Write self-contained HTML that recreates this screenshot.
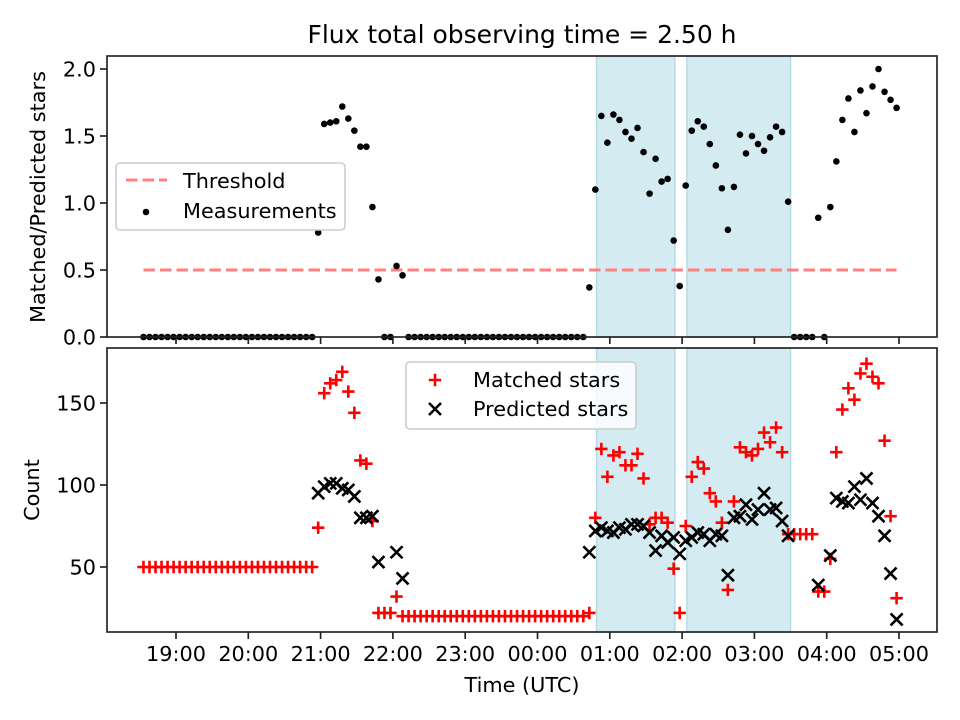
<!DOCTYPE html>
<html><head><meta charset="utf-8">
<style>
html,body{margin:0;padding:0;background:#fff;}
svg{display:block;font-family:"DejaVu Sans","Liberation Sans",sans-serif;}
</style></head>
<body>
<svg id="chart" width="960" height="720" viewBox="0 0 960 720" xmlns="http://www.w3.org/2000/svg"></svg>
<script>
// minutes after 18:00 UTC
const times = [33,38,43,48,53,58,63,68,73,78,83,88,93,98,103,108,113,118,123,128,133,138,143,148,153,158,163,168,173,178,183,188,193,198,203,208,213,218,223,228,233,238,243,248,253,258,263,268,273,278,283,288,293,298,303,308,313,318,323,328,333,338,343,348,353,358,363,368,373,378,383,388,393,398,403,408,413,418,423,428,433,438,443,448,453,458,463,468,473,478,483,488,493,498,503,508,513,518,523,528,533,538,543,548,553,558,563,568,573,578,583,588,593,598,603,608,613,618,623,628,633,638,643,648,653,658];
const ratio = [0,0,0,0,0,0,0,0,0,0,0,0,0,0,0,0,0,0,0,0,0,0,0,0,0,0,0,0,0,
0.78,1.59,1.60,1.61,1.72,1.63,1.54,1.42,1.42,0.97,0.43,0,0,0.53,0.46,
0,0,0,0,0,0,0,0,0,0,0,0,0,0,0,0,0,0,0,0,0,0,0,0,0,0,0,0,0,0,
0.37,
1.10,1.65,1.45,1.66,1.62,1.53,1.48,1.56,1.38,1.07,1.33,1.16,1.18,0.72,0.38,1.13,1.54,1.61,1.57,1.44,1.28,1.11,0.80,1.12,1.51,1.37,1.50,1.44,1.39,1.49,1.57,1.53,1.01,
0,0,0,0,0.89,0,
0.97,1.31,1.62,1.78,1.53,1.84,1.67,1.87,2.00,1.83,1.77,1.71];
const matched = [50,50,50,50,50,50,50,50,50,50,50,50,50,50,50,50,50,50,50,50,50,50,50,50,50,50,50,50,50,
74,156,162,164,169,157,144,115,113,78,22,22,22,32,20,
20,20,20,20,20,20,20,20,20,20,20,20,20,20,20,20,20,20,20,20,20,20,20,20,20,20,20,20,20,20,
22,
80,122,105,118,120,112,112,119,104,76,80,80,77,49,22,75,105,114,110,95,90,77,36,90,123,120,118,122,132,126,135,120,70,
70,70,70,70,35,35,
55,120,146,159,152,168,174,166,162,127,81,31];
const predicted = [null,null,null,null,null,null,null,null,null,null,null,null,null,null,null,null,null,null,null,null,null,null,null,null,null,null,null,null,null,
95,99,101,101,98,97,93,80,80,81,53,null,null,59,43,
null,null,null,null,null,null,null,null,null,null,null,null,null,null,null,null,null,null,null,null,null,null,null,null,null,null,null,null,null,null,
59,
72,74,72,71,74,73,76,76,75,71,60,69,65,68,58,66,68,71,70,66,70,69,45,80,81,88,79,85,95,85,86,78,69,
null,null,null,null,39,null,
57,92,90,89,99,91,104,89,81,69,46,18];
const spanStarts = [409,484];
const spanEnds = [474,570];
const threshold = 0.5;
const thresholdRange = [33,658];
const xTickValues = [60,120,180,240,300,360,420,480,540,600,660];
const xTickLabels = ["19:00","20:00","21:00","22:00","23:00","00:00","01:00","02:00","03:00","04:00","05:00"];
const topYTicks = [0,0.5,1.0,1.5,2.0];
const topYLabels = ["0.0","0.5","1.0","1.5","2.0"];
const botYTicks = [50,100,150];
const botYLabels = ["50","100","150"];

const NS="http://www.w3.org/2000/svg";
const svg=document.getElementById('chart');
function mk(tag,attrs,parent){const e=document.createElementNS(NS,tag);for(const k in attrs)e.setAttribute(k,attrs[k]);(parent||svg).appendChild(e);return e;}
const L=107,R=937;
const x=m=>176+(m-60)*72.3/60;
const T1=56,B1=337, T2=348,B2=632;
const yTop=v=>337-v*134;
const yBot=v=>567-(v-50)*1.64;
const FS=20.8;

// title
const title=mk('text',{x:522,y:43,'text-anchor':'middle','font-size':25,fill:'#000'});
title.textContent='Flux total observing time = 2.50 h';



function panel(T,B,name){
  const g=mk('g',{});
  
  
  for(let i=0;i<spanStarts.length;i++){
    const r=mk('rect',{x:x(spanStarts[i]),y:T,width:x(spanEnds[i])-x(spanStarts[i]),height:B-T,fill:'#d5ebf2',stroke:'#b5dbe7','stroke-width':1.5},g);
    
    
  }
  return g;
}
function frame(T,B,g){
  const f=mk('rect',{x:L,y:T,width:R-L,height:B-T,fill:'none',stroke:'#222','stroke-width':1.67},g);
  
  
  xTickValues.forEach((v,i)=>{
    const t=mk('line',{x1:x(v),x2:x(v),y1:B,y2:B+7,stroke:'#222','stroke-width':1.67},g);
    
    
  });
}

// ---- top panel
const g1=panel(T1,B1,'ratio-panel');
const th=mk('line',{x1:x(thresholdRange[0]),x2:x(thresholdRange[1]),y1:yTop(threshold),y2:yTop(threshold),stroke:'#ff8080','stroke-width':3,'stroke-dasharray':'11.5,5'},g1);


times.forEach((m,i)=>{
  const c=mk('circle',{cx:x(m),cy:yTop(ratio[i]),r:3.3,fill:'#000'},g1);
  
  
});
frame(T1,B1,g1);
topYTicks.forEach((v,i)=>{
  mk('line',{x1:L-7,x2:L,y1:yTop(v),y2:yTop(v),stroke:'#222','stroke-width':1.67},g1);
  const t=mk('text',{x:L-11,y:yTop(v)+7.5,'text-anchor':'end','font-size':FS},g1);
  t.textContent=topYLabels[i];
  
  
});
const yl1=mk('text',{transform:'translate(45,197) rotate(-90)','text-anchor':'middle','font-size':FS});
yl1.textContent='Matched/Predicted stars';


// top legend
const lg1=mk('g',{});


mk('rect',{x:116,y:163,width:229,height:67,rx:4,fill:'rgba(255,255,255,0.8)',stroke:'#cccccc','stroke-width':1.6},lg1);
mk('line',{x1:126,x2:167,y1:180,y2:180,stroke:'#ff8080','stroke-width':3,'stroke-dasharray':'11.5,5'},lg1);
const lt1=mk('text',{x:183,y:188,'font-size':FS},lg1);lt1.textContent='Threshold';


mk('circle',{cx:146,cy:212,r:3.3,fill:'#000'},lg1);
const lt2=mk('text',{x:183,y:218,'font-size':FS},lg1);lt2.textContent='Measurements';



// ---- bottom panel
const g2=panel(T2,B2,'count-panel');
function plus(cx,cy,p){mk('path',{d:`M${cx-6.2},${cy}H${cx+6.2}M${cx},${cy-6.2}V${cy+6.2}`,stroke:'#ff0000','stroke-width':2.6,fill:'none'},p);}
function cross(cx,cy,p){mk('path',{d:`M${cx-6},${cy-6}L${cx+6},${cy+6}M${cx-6},${cy+6}L${cx+6},${cy-6}`,stroke:'#000','stroke-width':2.6,fill:'none'},p);}
const gm=mk('g',{},g2);


times.forEach((m,i)=>{ if(matched[i]!==null) plus(x(m),yBot(matched[i]),gm); });
const gp=mk('g',{},g2);


times.forEach((m,i)=>{ if(predicted[i]!==null) cross(x(m),yBot(predicted[i]),gp); });
frame(T2,B2,g2);
botYTicks.forEach((v,i)=>{
  mk('line',{x1:L-7,x2:L,y1:yBot(v),y2:yBot(v),stroke:'#222','stroke-width':1.67},g2);
  const t=mk('text',{x:L-11,y:yBot(v)+7.5,'text-anchor':'end','font-size':FS},g2);
  t.textContent=botYLabels[i];
  
  
});
xTickValues.forEach((v,i)=>{
  const t=mk('text',{x:x(v),y:B2+29,'text-anchor':'middle','font-size':FS},g2);
  t.textContent=xTickLabels[i];
  
  
});
const yl2=mk('text',{transform:'translate(39,490) rotate(-90)','text-anchor':'middle','font-size':FS});
yl2.textContent='Count';


const xl=mk('text',{x:522,y:692,'text-anchor':'middle','font-size':FS});
xl.textContent='Time (UTC)';


// bottom legend
const lg2=mk('g',{});


mk('rect',{x:406,y:362,width:230,height:67,rx:4,fill:'rgba(255,255,255,0.8)',stroke:'#cccccc','stroke-width':1.6},lg2);
plus(435,380,lg2);
const lt3=mk('text',{x:473,y:387,'font-size':FS},lg2);lt3.textContent='Matched stars';


cross(435,409,lg2);
const lt4=mk('text',{x:473,y:416,'font-size':FS},lg2);lt4.textContent='Predicted stars';


</script>
</body></html>
